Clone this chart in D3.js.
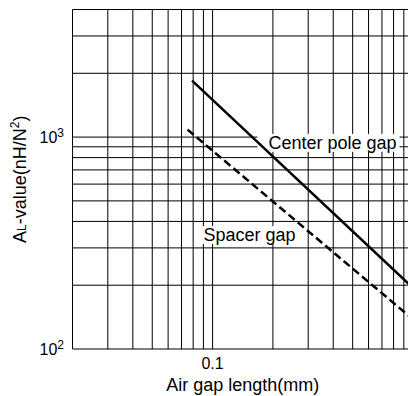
<!DOCTYPE html>
<html><head><meta charset="utf-8">
<script src="https://cdn.jsdelivr.net/npm/d3@7"></script>
<style>
html,body{margin:0;padding:0;background:#fff;}
svg{display:block;font-family:"Liberation Sans",Arial,Helvetica,sans-serif;}
</style></head>
<body>
<svg id="c" width="408" height="396"></svg>
<script>
// ---- data ----
const xDomain = [0.02, 1];
const yDomain = [100, 4000];
const xGrid = [0.02,0.03,0.04,0.05,0.06,0.07,0.08,0.09,0.1,0.2,0.3,0.4,0.5,0.6,0.7,0.8,0.9,1];
const yGrid = [100,200,300,400,500,600,700,800,900,1000,2000,3000,4000];
const xTickValues = [0.1];
const xTickLabels = ["0.1"];
const yTickValues = [100, 1000];
const yTickExp = ["2", "3"];
const centerGapX = [0.079, 1.0];
const centerGapAL = [1846, 194];
const spacerGapX = [0.075, 1.0];
const spacerGapAL = [1084, 138];
const centerLabel = {text: "Center pole gap", x: 0.19, y: 880};
const spacerLabel = {text: "Spacer gap", x: 0.09, y: 323};

// ---- layout ----
const svg = d3.select("#c");
const L = 72.5, R = 413, T = 9.5, B = 349;
const x = d3.scaleLog().domain(xDomain).range([L, R]);
const y = d3.scaleLog().domain(yDomain).range([B, T]);

const g = svg.append("g");
// grid
g.selectAll("line.v").data(xGrid).enter().append("line")
  .attr("x1", d => x(d)).attr("x2", d => x(d)).attr("y1", T).attr("y2", B)
  .attr("stroke", "#000").attr("stroke-width", 1);
g.selectAll("line.h").data(yGrid).enter().append("line")
  .attr("y1", d => y(d)).attr("y2", d => y(d)).attr("x1", L).attr("x2", R)
  .attr("stroke", "#000").attr("stroke-width", 1);

// labels with white background
function label(lab, padL, padR) {
  const t = g.append("text").attr("x", x(lab.x)).attr("y", y(lab.y))
    .attr("font-size", 18).attr("fill", "#000").text(lab.text);
  const bb = t.node().getBBox();
  g.insert("rect", () => t.node())
    .attr("x", bb.x - padL).attr("y", bb.y + 1)
    .attr("width", bb.width + padL + padR).attr("height", bb.height - 2)
    .attr("fill", "#fff");
}
label(centerLabel, 11, 3);
label(spacerLabel, 1, 1);

// series lines
const line = d3.line().x(d => x(d[0])).y(d => y(d[1]));
g.append("path").datum(centerGapX.map((v, i) => [v, centerGapAL[i]]))
  .attr("d", line).attr("fill", "none").attr("stroke", "#000").attr("stroke-width", 2.5);
g.append("path").datum(spacerGapX.map((v, i) => [v, spacerGapAL[i]]))
  .attr("d", line).attr("fill", "none").attr("stroke", "#000").attr("stroke-width", 2.5)
  .attr("stroke-dasharray", "8,4");

// x tick labels
g.selectAll("text.xt").data(xTickValues).enter().append("text")
  .attr("x", d => x(d)).attr("y", 368.5).attr("text-anchor", "middle")
  .attr("font-size", 16).text((d, i) => xTickLabels[i]);

// y tick labels 10^n
yTickValues.forEach((v, i) => {
  const t = g.append("text").attr("x", 64).attr("y", y(v) + 6)
    .attr("text-anchor", "end").attr("font-size", 16);
  t.append("tspan").text("10");
  t.append("tspan").attr("font-size", 12).attr("dy", -6).text(yTickExp[i]);
});

// axis titles
g.append("text").attr("x", (L + R) / 2).attr("y", 391).attr("text-anchor", "middle")
  .attr("font-size", 18).text("Air gap length(mm)");
const yt = g.append("text").attr("transform", "translate(26," + ((T + B) / 2) + ") rotate(-90)")
  .attr("text-anchor", "middle").attr("font-size", 18);
yt.append("tspan").text("A");
yt.append("tspan").attr("font-size", 12).text("L");
yt.append("tspan").text("-value(nH/N");
yt.append("tspan").attr("font-size", 12).attr("dy", -7).text("2");
yt.append("tspan").attr("dy", 7).text(")");
</script>
</body></html>
